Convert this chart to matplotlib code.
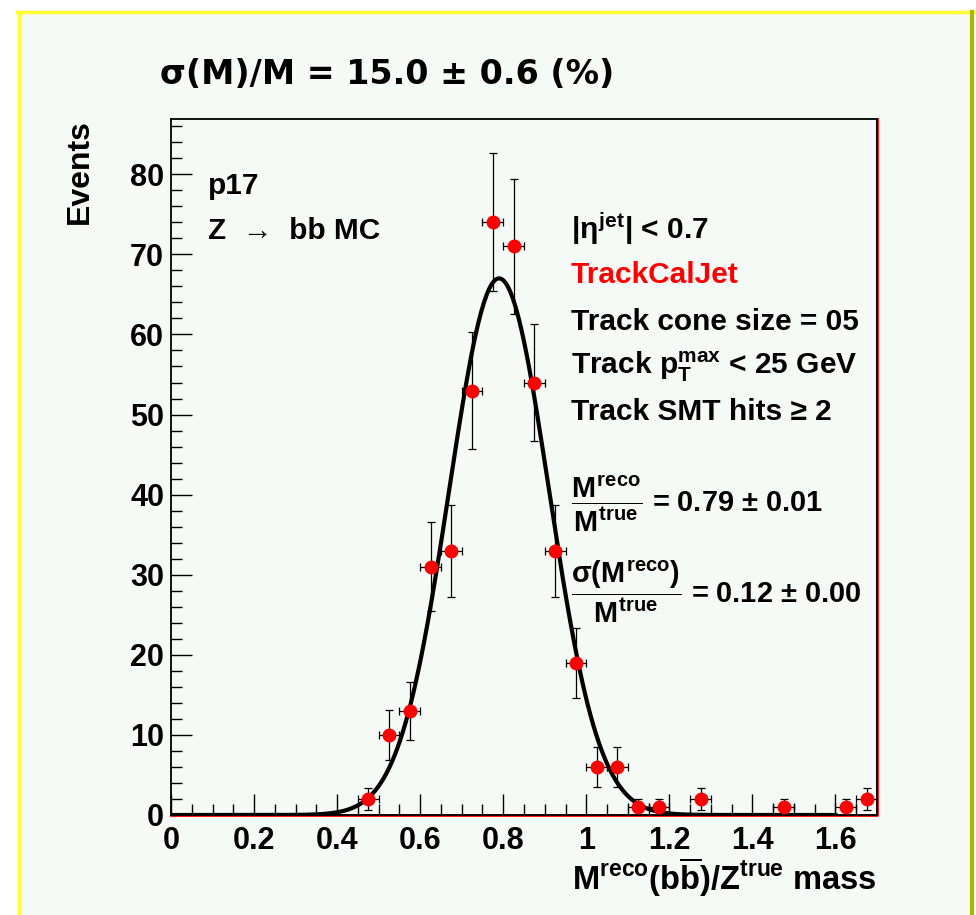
import numpy as np
import matplotlib
matplotlib.use("Agg")
import matplotlib.pyplot as plt
from matplotlib.ticker import MultipleLocator
from matplotlib.lines import Line2D

plt.rcParams['font.family'] = ['Liberation Sans', 'DejaVu Sans']
plt.rcParams['font.weight'] = 'bold'
plt.rcParams['mathtext.fontset'] = 'custom'
plt.rcParams['mathtext.rm'] = 'Liberation Sans:bold'
plt.rcParams['mathtext.it'] = 'Liberation Sans:bold'
plt.rcParams['mathtext.bf'] = 'Liberation Sans:bold'
plt.rcParams['mathtext.sf'] = 'Liberation Sans:bold'

# data: histogram of Mreco/Mtrue (bin width 0.05)
bin_centers = [0.475, 0.525, 0.575, 0.625, 0.675, 0.725, 0.775, 0.825, 0.875,
               0.925, 0.975, 1.025, 1.075, 1.125, 1.175, 1.275, 1.475, 1.625, 1.675]
counts = [2, 10, 13, 31, 33, 53, 74, 71, 54, 33, 19, 6, 6, 1, 1, 2, 1, 1, 2]
bin_half_width = 0.025

# gaussian fit
fit_amp = 67.0
fit_mean = 0.79
fit_sigma = 0.12
fit_range = (0.0, 1.6)

bg = '#f5faf7'
W, H = 976, 915
fig = plt.figure(figsize=(W / 100, H / 100), dpi=100, facecolor='white')

# pad background + border
fig.patches.append(plt.Rectangle((17 / W, 0), 1 - 17 / W, 1 - 10 / H,
                                 transform=fig.transFigure, facecolor=bg,
                                 edgecolor='none', zorder=-10))
fig.lines.append(Line2D([18.5 / W, 18.5 / W], [0, 1 - 11.5 / H], transform=fig.transFigure,
                        color='#ffff33', lw=2.5))
fig.lines.append(Line2D([17 / W, 1], [1 - 11.5 / H, 1 - 11.5 / H], transform=fig.transFigure,
                        color='#ffff33', lw=2.5))
fig.lines.append(Line2D([972 / W, 972 / W], [0, 1 - 11.5 / H], transform=fig.transFigure,
                        color='#a9b500', lw=3))

ax = fig.add_axes([171 / W, 1 - 815 / H, (877 - 171) / W, (815 - 119) / H])
ax.set_facecolor(bg)
ax.set_xlim(0, 1.7)
ax.set_ylim(0, 86.9)

# red histogram outline
ax.plot([0, 1.7, 1.7], [0, 0, 86.9], color='red', lw=2, zorder=2, clip_on=False)

xs = np.linspace(fit_range[0], fit_range[1], 500)
ax.plot(xs, fit_amp * np.exp(-0.5 * ((xs - fit_mean) / fit_sigma) ** 2),
        color='black', lw=3, zorder=3)

ax.errorbar(bin_centers, counts, xerr=bin_half_width, yerr=np.sqrt(counts),
            fmt='o', color='red', ecolor='black', elinewidth=0.9, capsize=3,
            capthick=0.9, markersize=9, zorder=4)

ax.xaxis.set_major_locator(MultipleLocator(0.2))
ax.xaxis.set_minor_locator(MultipleLocator(0.05))
ax.yaxis.set_major_locator(MultipleLocator(10))
ax.yaxis.set_minor_locator(MultipleLocator(2))
ax.set_xticks([0, 0.2, 0.4, 0.6, 0.8, 1.0, 1.2, 1.4, 1.6])
ax.set_xticklabels(['0', '0.2', '0.4', '0.6', '0.8', '1', '1.2', '1.4', '1.6'])
ax.tick_params(which='both', direction='in', top=False, right=False,
               labelsize=22, width=1)
ax.tick_params(which='major', length=15)
ax.tick_params(which='minor', length=8)
ax.tick_params(axis='x', pad=8)
ax.tick_params(axis='y', pad=5)
for s in ax.spines.values():
    s.set_linewidth(1.3)
for lab in ax.get_xticklabels() + ax.get_yticklabels():
    lab.set_fontweight('bold')

def ftext(x, y, s, size=21.5, **kw):
    fig.text(x / W, 1 - y / H, s, fontsize=size, fontweight='bold',
             va='baseline', ha='left', **kw)

fig.text(160 / W, 1 - 84 / H, 'σ(M)/M = 15.0 ± 0.6 (%)', fontsize=24,
         family=['DejaVu Sans'], fontweight='bold', va='baseline', ha='left')
fig.text(80 / W, 1 - 119 / H, 'Events', fontsize=23, fontweight='bold',
         rotation=90, va='top', ha='center')
fig.text(877 / W, 1 - 890 / H, r'M$^{reco}$(b$\overline{b}$)/Z$^{true}$ mass', fontsize=23.5,
         fontweight='bold', va='baseline', ha='right')

ftext(208, 194, 'p17')
ftext(208, 239, 'Z  →  bb MC')
ftext(571, 239, r'|$\eta^{jet}$| < 0.7')
ftext(571, 283, 'TrackCalJet', color='red')
ftext(571, 330, 'Track cone size = 05')
ftext(571, 374, r'Track p$_{T}^{max}$ < 25 GeV')
ftext(571, 420, 'Track SMT hits ≥ 2')
ftext(571, 512, r'$\dfrac{M^{reco}}{M^{true}}$ = 0.79 ± 0.01', size=20.8)
ftext(571, 603, r'$\dfrac{\sigma(M^{reco})}{M^{true}}$ = 0.12 ± 0.00', size=20.8)

fig.savefig('out.png', dpi=100, facecolor='white')
